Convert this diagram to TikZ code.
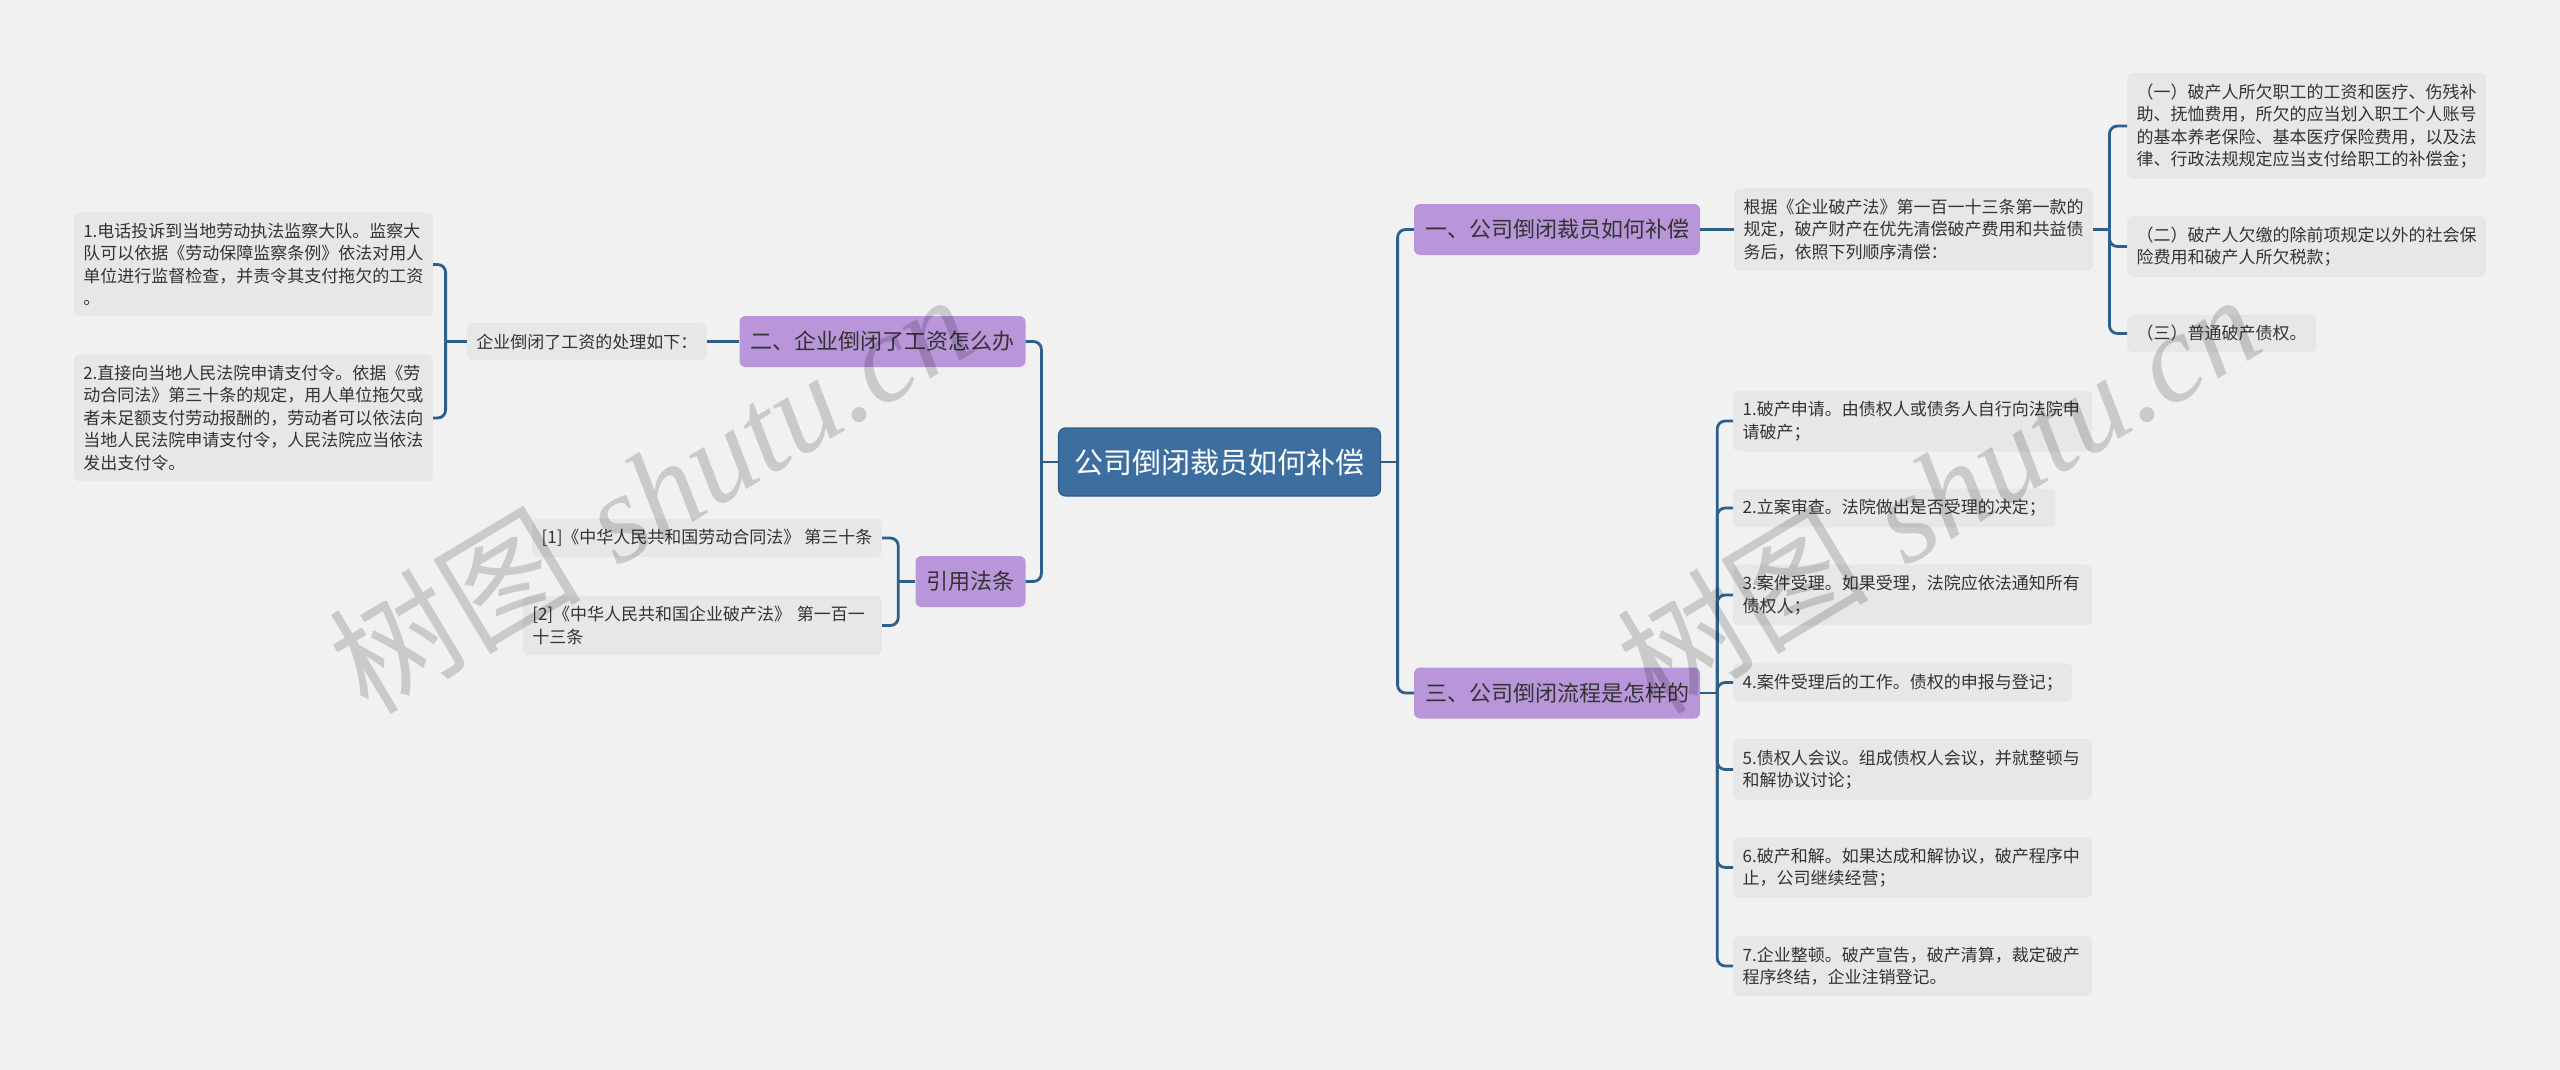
\documentclass[tikz,border=0pt]{standalone}
\usepackage{fontspec}
\newfontfamily\cjkfont{Noto Sans CJK SC}
\newfontfamily\markfont{Liberation Serif}
\definecolor{paper}{HTML}{F1F1F1}
\definecolor{leafgray}{HTML}{E7E7E7}
\definecolor{textgray}{HTML}{333333}
\definecolor{branchpurple}{HTML}{B896D9}
\definecolor{rootblue}{HTML}{3C6FA0}
\definecolor{rootedge}{HTML}{2E5D8C}
\definecolor{linkblue}{HTML}{2D5F8B}
\begin{document}
\begin{tikzpicture}[x=1pt, y=-1pt,
	leaf/.style={fill=leafgray, text=textgray, rounded corners=6pt, inner xsep=9.5pt, inner ysep=10.5pt, align=left, font=\cjkfont\fontsize{17}{22.5}\selectfont},
	wide/.style={text width=340pt},
	branch/.style={fill=branchpurple, text=textgray, rounded corners=6pt, inner xsep=11pt, minimum height=51pt, font=\cjkfont\fontsize{22}{26}\selectfont},
	rootbox/.style={fill=rootblue, draw=rootedge, line width=1.2pt, text=white, rounded corners=7pt, inner xsep=16pt, minimum height=68pt, font=\cjkfont\fontsize{29}{34}\selectfont},
	link/.style={draw=linkblue, line width=2.8pt, rounded corners=8pt},
	wmark/.style={text=black, opacity=0.16, rotate=31, font=\fontsize{126}{136}\selectfont}
]
	\fill[paper] (0,0) rectangle (2560,1070);
	\useasboundingbox (0,0) rectangle (2560,1070);

	\node[rootbox] (root) at (1219.5,462) {公司倒闭裁员如何补偿};

	\node[branch] (pay) at (1557,229.5) {一、公司倒闭裁员如何补偿};
	\node[branch] (wage) at (882.5,341.5) {二、企业倒闭了工资怎么办};
	\node[branch] (flow) at (1557,693) {三、公司倒闭流程是怎样的};
	\node[branch] (law) at (970.5,581.5) {引用法条};

	\node[leaf, anchor=east] (wagehow) at (707,341.5) {企业倒闭了工资的处理如下：};
	\node[leaf, wide, anchor=east] (wage1) at (433,264.5) {1.电话投诉到当地劳动执法监察大队。监察大\\队可以依据《劳动保障监察条例》依法对用人\\单位进行监督检查，并责令其支付拖欠的工资\\。};
	\node[leaf, wide, anchor=east] (wage2) at (433,418) {2.直接向当地人民法院申请支付令。依据《劳\\动合同法》第三十条的规定，用人单位拖欠或\\者未足额支付劳动报酬的，劳动者可以依法向\\当地人民法院申请支付令，人民法院应当依法\\发出支付令。};

	\node[leaf, anchor=east] (law1) at (882,538) {[1]《中华人民共和国劳动合同法》 第三十条};
	\node[leaf, wide, anchor=east] (law2) at (882,625.5) {[2]《中华人民共和国企业破产法》 第一百一\\十三条};

	\node[leaf, wide, anchor=west] (payrule) at (1734,229.5) {根据《企业破产法》第一百一十三条第一款的\\规定，破产财产在优先清偿破产费用和共益债\\务后，依照下列顺序清偿：};
	\node[leaf, wide, anchor=west] (pay1) at (2127,126) {（一）破产人所欠职工的工资和医疗、伤残补\\助、抚恤费用，所欠的应当划入职工个人账号\\的基本养老保险、基本医疗保险费用，以及法\\律、行政法规规定应当支付给职工的补偿金；};
	\node[leaf, wide, anchor=west] (pay2) at (2127,246.5) {（二）破产人欠缴的除前项规定以外的社会保\\险费用和破产人所欠税款；};
	\node[leaf, anchor=west] (pay3) at (2127,333.5) {（三）普通破产债权。};

	\node[leaf, wide, anchor=west] (flow1) at (1733,421) {1.破产申请。由债权人或债务人自行向法院申\\请破产；};
	\node[leaf, anchor=west] (flow2) at (1733,508) {2.立案审查。法院做出是否受理的决定；};
	\node[leaf, wide, anchor=west] (flow3) at (1733,595) {3.案件受理。如果受理，法院应依法通知所有\\债权人；};
	\node[leaf, anchor=west] (flow4) at (1733,682.5) {4.案件受理后的工作。债权的申报与登记；};
	\node[leaf, wide, anchor=west] (flow5) at (1733,769.5) {5.债权人会议。组成债权人会议，并就整顿与\\和解协议讨论；};
	\node[leaf, wide, anchor=west] (flow6) at (1733,867.5) {6.破产和解。如果达成和解协议，破产程序中\\止，公司继续经营；};
	\node[leaf, wide, anchor=west] (flow7) at (1733,966) {7.企业整顿。破产宣告，破产清算，裁定破产\\程序终结，企业注销登记。};

	\draw[link] (root.east) -- ++(16.5,0) coordinate (rootR);
	\draw[link] (rootR) |- (pay.west);
	\draw[link] (rootR) |- (flow.west);
	\draw[link] (root.west) -- ++(-16.5,0) coordinate (rootL);
	\draw[link] (rootL) |- (wage.east);
	\draw[link] (rootL) |- (law.east);

	\draw[link] (wage.west) -- (wagehow.east);
	\draw[link] (wagehow.west) -- ++(-21,0) coordinate (wageL);
	\draw[link] (wageL) |- (wage1.east);
	\draw[link] (wageL) |- (wage2.east);

	\draw[link] (law.west) -- ++(-17,0) coordinate (lawL);
	\draw[link] (lawL) |- (law1.east);
	\draw[link] (lawL) |- (law2.east);

	\draw[link] (pay.east) -- (payrule.west);
	\draw[link] (payrule.east) -- ++(16,0) coordinate (ruleR);
	\foreach \k in {1,2,3}
		\draw[link] (ruleR) |- (pay\k.west);

	\draw[link] (flow.east) -- ++(17,0) coordinate (flowR);
	\foreach \k in {1,...,7}
		\draw[link] (flowR) |- (flow\k.west);

	\node[wmark] (mark1) at (650,492) {{\cjkfont 树图} {\markfont\itshape shutu.cn}};
	\node[wmark] (mark2) at (1938,492) {{\cjkfont 树图} {\markfont\itshape shutu.cn}};
\end{tikzpicture}
\end{document}
